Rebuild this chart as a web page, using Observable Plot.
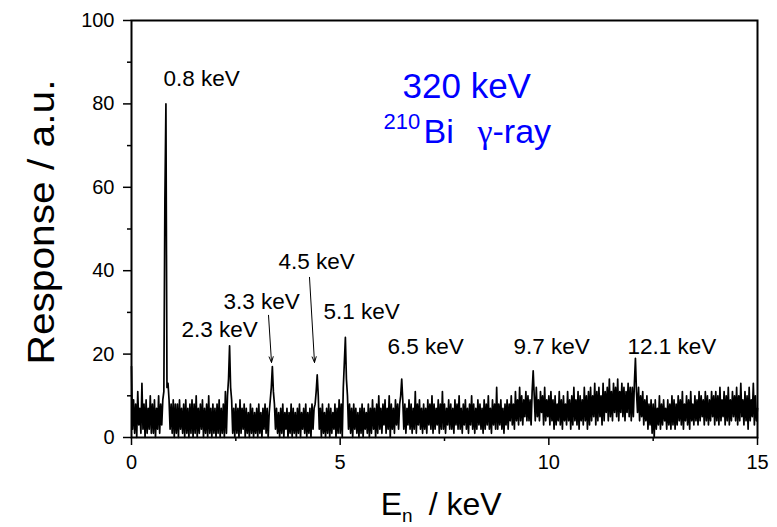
<!DOCTYPE html>
<html>
<head>
<meta charset="utf-8">
<script src="https://cdn.jsdelivr.net/npm/d3@7"></script>
<script src="https://cdn.jsdelivr.net/npm/@observablehq/plot@0.6"></script>
<style>
  html, body { margin: 0; padding: 0; background: #fff; }
  #chart { width: 777px; height: 527px; }
</style>
</head>
<body>
<div id="chart"></div>
<script>
// Spectrum: channel width 0.025 keV starting at 0 keV
const channelWidth = 0.025;
const response = [
  17,2,9,1,8,0,11,3,7,1,13,2,8,0,9,1,7,2,10,1,
  8,1,9,0,7,2,10,1,8,3,9,11,57,80,12,13,9,2,8,1,
  9,0,8,1,8,0,9,2,7,1,8,0,9,1,7,0,8,1,9,0,
  8,1,10,0,7,1,8,2,9,0,7,1,8,0,10,1,7,0,8,1,
  7,0,8,1,9,0,7,1,8,0,11,1,10,14,22,12,9,1,7,0,
  8,1,7,0,9,1,7,2,8,0,7,1,6,0,8,1,7,0,6,1,
  7,0,8,1,6,0,7,2,8,1,7,0,6,9,12,17,11,8,2,7,
  1,6,0,7,1,8,0,6,2,7,0,6,1,8,0,7,1,6,0,7,
  1,8,0,6,2,7,1,8,0,6,1,7,0,8,2,7,8,11,15,10,
  2,7,0,8,1,6,0,7,1,8,0,7,1,6,2,8,0,7,1,9,
  1,8,0,12,18,24,14,10,2,8,1,7,0,8,2,7,1,6,0,7,
  1,8,0,7,2,6,1,8,0,7,1,9,2,7,0,8,1,10,2,7,
  1,8,3,9,1,7,2,10,0,8,2,7,1,9,3,8,2,8,10,14,
  9,2,8,1,7,3,9,2,8,1,7,2,11,1,8,3,9,2,7,1,
  8,2,7,1,9,3,8,2,10,1,8,2,7,3,9,1,8,2,11,2,
  8,1,7,3,9,2,8,2,7,1,9,3,8,2,10,2,7,1,8,3,
  9,2,7,1,8,3,10,2,8,1,7,2,9,3,8,2,7,1,9,2,
  8,3,10,2,7,1,9,3,8,2,12,2,8,3,9,2,7,1,8,3,
  9,2,8,4,10,3,8,2,11,4,9,3,12,4,10,3,9,5,11,4,
  10,4,9,3,11,16,10,4,12,5,9,4,11,6,10,3,12,4,9,5,
  10,3,11,4,9,2,10,3,8,4,11,3,9,2,10,4,8,3,11,4,
  9,2,10,3,12,4,9,3,11,2,10,4,9,3,12,4,10,2,11,3,
  12,4,10,5,13,3,11,4,12,5,10,3,13,4,11,6,12,4,14,5,
  11,4,13,6,12,5,14,4,11,6,13,5,12,4,11,6,13,5,12,4,
  12,5,13,19,11,6,12,4,10,5,11,3,9,4,10,2,8,3,9,1,
  8,0,9,2,7,3,10,2,8,3,9,4,7,2,9,3,8,2,10,3,
  9,2,8,3,10,4,9,3,11,2,8,4,10,3,9,2,11,4,8,3,
  10,4,9,3,11,4,10,5,9,3,11,4,10,3,9,4,11,5,10,3,
  11,4,10,3,12,4,9,5,11,3,10,4,12,3,9,4,11,5,10,4,
  12,3,10,4,13,5,9,3,11,4,10,2,12,4,9,5,13,3,10,4,
  7
];

// Axis ticks
const xTicksMajor = [0, 5, 10, 15];
const xTicksMinor = [2.5, 7.5, 12.5];
const yTicksMajor = [0, 20, 40, 60, 80, 100];
const yTicksMinor = [10, 30, 50, 70, 90];

// Peak annotations
const peakLabels = ["0.8 keV", "2.3 keV", "3.3 keV", "4.5 keV", "5.1 keV", "6.5 keV", "9.7 keV", "12.1 keV"];
// layout positions (data coordinates) for the annotation texts
const peakLabelX = [0.767, 1.198, 2.205, 3.523, 4.601, 6.135, 9.154, 11.886];
const peakLabelY = [84.2, 24.2, 30.9, 40.3, 28.5, 20.1, 20.1, 20.1];

// arrows pointing to 3.3 keV and 4.5 keV peaks
const arrowX1 = [3.283, 4.265];
const arrowY1 = [29.3, 38.4];
const arrowX2 = [3.355, 4.385];
const arrowY2 = [18.0, 18.0];

const spectrum = response.map((v, i) => ({E: i * channelWidth, r: v}));
const peaks = peakLabels.map((t, i) => ({t, x: peakLabelX[i], y: peakLabelY[i]}));
const arrows = arrowX1.map((x1, i) => ({x1, y1: arrowY1[i], x2: arrowX2[i], y2: arrowY2[i]}));

const blue = "#0000ff";
const font = "'Liberation Sans', Arial, Helvetica, sans-serif";

const chart = Plot.plot({
  width: 777,
  height: 527,
  marginLeft: 131,
  marginRight: 20,
  marginTop: 20,
  marginBottom: 90,
  style: {fontFamily: font, background: "white", color: "black"},
  x: {domain: [0, 15]},
  y: {domain: [0, 100]},
  marks: [
    Plot.line(spectrum, {x: "E", y: "r", stroke: "black", strokeWidth: 1.7}),
    Plot.frame({stroke: "black", strokeWidth: 2}),
    Plot.axisX({ticks: xTicksMajor, tickSize: 8, tickPadding: 9, fontSize: 20, strokeWidth: 1.5, label: null, tickFormat: d => d}),
    Plot.axisX({ticks: xTicksMinor, tickSize: 4, strokeWidth: 1.5, label: null, tickFormat: () => ""}),
    Plot.axisY({ticks: yTicksMajor, tickSize: 8, tickPadding: 9, fontSize: 20, strokeWidth: 1.5, label: null, tickFormat: d => d}),
    Plot.axisY({ticks: yTicksMinor, tickSize: 4, strokeWidth: 1.5, label: null, tickFormat: () => ""}),
    Plot.text(peaks, {x: "x", y: "y", text: "t", textAnchor: "start", lineAnchor: "bottom", fontSize: 22.5, fill: "black"}),
    Plot.arrow(arrows, {x1: "x1", y1: "y1", x2: "x2", y2: "y2", stroke: "black", strokeWidth: 1, headLength: 9, headAngle: 40}),
    Plot.text(["320 keV"], {x: 6.494, y: 81.5, text: d => d, textAnchor: "start", lineAnchor: "bottom", fontSize: 35, fill: blue}),
    Plot.text(["210"], {x: 6.039, y: 74.1, text: d => d, textAnchor: "start", lineAnchor: "bottom", fontSize: 22, fill: blue}),
    Plot.text(["Bi"], {x: 6.997, y: 70.7, text: d => d, textAnchor: "start", lineAnchor: "bottom", fontSize: 34, fill: blue}),
    Plot.text(["γ"], {x: 8.291, y: 70.7, text: d => d, textAnchor: "start", lineAnchor: "bottom", fontSize: 34, fill: blue, fontFamily: "'Liberation Serif', 'DejaVu Serif', serif"}),
    Plot.text(["-ray"], {x: 8.651, y: 70.7, text: d => d, textAnchor: "start", lineAnchor: "bottom", fontSize: 34, fill: blue}),
    // axis titles
    Plot.text(["Response / a.u."], {frameAnchor: "left", dx: -89, dy: -7, rotate: -90, text: d => d, textAnchor: "middle", lineAnchor: "middle", fontSize: 36, fill: "black", className: "ylabel"}),
    Plot.text(["E"], {x: 5.97, y: -18.7, text: d => d, textAnchor: "start", lineAnchor: "bottom", fontSize: 32, fill: "black"}),
    Plot.text(["n"], {x: 6.48, y: -20.3, text: d => d, textAnchor: "start", lineAnchor: "bottom", fontSize: 19, fill: "black"}),
    Plot.text(["/ keV"], {x: 7.12, y: -18.7, text: d => d, textAnchor: "start", lineAnchor: "bottom", fontSize: 32, fill: "black"})
  ]
});
// stretch the y-axis title along its direction as in the reference
d3.select(chart).selectAll("text").filter(function() { return this.textContent === "Response / a.u."; })
  .attr("textLength", 285).attr("lengthAdjust", "spacingAndGlyphs");
document.getElementById("chart").appendChild(chart);
</script>
</body>
</html>
